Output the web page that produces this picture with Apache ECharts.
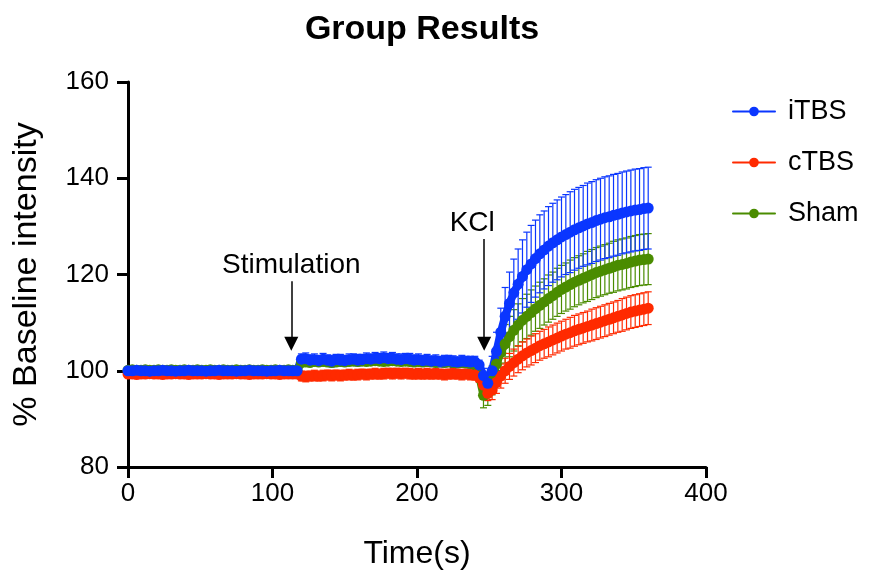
<!DOCTYPE html>
<html>
<head>
<meta charset="utf-8">
<title>Group Results</title>
<script src="https://cdn.jsdelivr.net/npm/echarts/dist/echarts.min.js"></script>
<style>
  html, body { margin: 0; padding: 0; background: #fff; }
  #chart { width: 872px; height: 579px; }
</style>
</head>
<body>
<div id="chart"></div>
<script>
// time points (s)
const times = [
  0, 3, 6, 9, 12, 15, 18, 21, 24, 27,
  30, 33, 36, 39, 42, 45, 48, 51, 54, 57,
  60, 63, 66, 69, 72, 75, 78, 81, 84, 87,
  90, 93, 96, 99, 102, 105, 108, 111, 114, 117,
  120, 123, 126, 129, 132, 135, 138, 141, 144, 147,
  150, 153, 156, 159, 162, 165, 168, 171, 174, 177,
  180, 183, 186, 189, 192, 195, 198, 201, 204, 207,
  210, 213, 216, 219, 222, 225, 228, 231, 234, 237,
  240, 243, 246, 249, 252, 255, 258, 261, 264, 267,
  270, 273, 276, 279, 282, 285, 288, 291, 294, 297,
  300, 303, 306, 309, 312, 315, 318, 321, 324, 327,
  330, 333, 336, 339, 342, 345, 348, 351, 354, 357,
  360
]

// % baseline intensity, mean
const itbs = [
  100.0, 100.0, 100.1, 100.0, 100.0, 99.9, 100.0, 100.0, 100.1, 100.0,
  100.0, 99.9, 100.0, 100.0, 100.1, 100.0, 100.0, 100.0, 99.9, 100.0,
  100.0, 100.1, 100.0, 100.0, 100.0, 99.9, 100.0, 100.0, 100.1, 100.0,
  100.0, 100.0, 99.9, 100.0, 100.0, 100.1, 100.0, 100.0, 100.0, 100.0,
  102.4, 102.5, 102.2, 102.3, 102.1, 102.4, 102.2, 102.0, 102.3, 102.2,
  102.1, 102.3, 102.4, 102.2, 102.3, 102.5, 102.4, 102.6, 102.5, 102.7,
  102.5, 102.6, 102.4, 102.3, 102.5, 102.4, 102.2, 102.3, 102.1, 102.2,
  102.0, 102.1, 101.9, 102.0, 102.1, 101.9, 101.8, 102.0, 101.9, 101.8,
  101.9, 101.2, 99.0, 97.4, 100.0, 104.0, 108.0, 111.3, 114.0, 116.2,
  118.0, 119.6, 121.0, 122.2, 123.3, 124.3, 125.1, 125.9, 126.6, 127.2,
  127.8, 128.3, 128.8, 129.3, 129.7, 130.1, 130.5, 130.8, 131.2, 131.5,
  131.8, 132.0, 132.3, 132.5, 132.8, 133.0, 133.2, 133.4, 133.5, 133.7,
  133.8
]
const ctbs = [
  99.3, 99.3, 99.2, 99.3, 99.3, 99.4, 99.3, 99.3, 99.2, 99.3,
  99.3, 99.4, 99.3, 99.3, 99.2, 99.3, 99.3, 99.3, 99.4, 99.3,
  99.3, 99.2, 99.3, 99.3, 99.3, 99.4, 99.3, 99.3, 99.2, 99.3,
  99.3, 99.3, 99.4, 99.3, 99.3, 99.2, 99.3, 99.3, 99.3, 99.3,
  98.9, 98.8, 98.9, 99.0, 98.9, 99.0, 99.1, 99.0, 99.1, 99.0,
  99.1, 99.2, 99.1, 99.2, 99.3, 99.2, 99.3, 99.4, 99.3, 99.4,
  99.5, 99.4, 99.5, 99.4, 99.5, 99.4, 99.3, 99.4, 99.3, 99.4,
  99.3, 99.4, 99.3, 99.2, 99.3, 99.4, 99.3, 99.2, 99.3, 99.2,
  99.1, 98.6, 97.0, 95.3, 96.0, 97.6, 98.9, 100.0, 100.9, 101.7,
  102.4, 103.1, 103.7, 104.2, 104.7, 105.2, 105.6, 106.0, 106.4, 106.8,
  107.2, 107.6, 107.9, 108.3, 108.6, 108.9, 109.2, 109.5, 109.8, 110.1,
  110.4, 110.7, 111.0, 111.3, 111.6, 111.9, 112.2, 112.4, 112.6, 112.8,
  113.0
]
const sham = [
  100.1, 100.2, 100.1, 100.1, 100.2, 100.1, 100.1, 100.2, 100.1, 100.1,
  100.2, 100.1, 100.1, 100.2, 100.1, 100.1, 100.2, 100.1, 100.1, 100.2,
  100.1, 100.1, 100.2, 100.1, 100.1, 100.2, 100.1, 100.1, 100.2, 100.1,
  100.1, 100.2, 100.1, 100.1, 100.2, 100.1, 100.1, 100.2, 100.1, 100.1,
  101.7, 101.8, 101.7, 101.9, 101.8, 101.9, 101.8, 101.7, 101.8, 101.9,
  101.8, 101.9, 102.0, 101.9, 102.0, 101.9, 102.0, 102.1, 102.0, 101.9,
  102.0, 102.1, 102.0, 101.9, 102.0, 101.9, 101.8, 101.9, 101.8, 101.9,
  101.8, 101.7, 101.8, 101.7, 101.8, 101.7, 101.6, 101.7, 101.6, 101.5,
  101.2, 99.0, 94.9, 95.3, 98.0, 101.4, 103.8, 105.6, 107.1, 108.4,
  109.5, 110.5, 111.3, 112.1, 112.9, 113.6, 114.3, 115.0, 115.6, 116.3,
  116.9, 117.4, 117.9, 118.4, 118.8, 119.2, 119.6, 120.0, 120.4, 120.7,
  121.0, 121.3, 121.6, 121.9, 122.1, 122.3, 122.6, 122.8, 123.0, 123.1,
  123.2
]

// error bar half-lengths
const itbsErr = [
  0.3, 0.3, 0.3, 0.3, 0.3, 0.3, 0.3, 0.3, 0.3, 0.3,
  0.3, 0.3, 0.3, 0.3, 0.3, 0.3, 0.3, 0.3, 0.3, 0.3,
  0.3, 0.3, 0.3, 0.3, 0.3, 0.3, 0.3, 0.3, 0.3, 0.3,
  0.3, 0.3, 0.3, 0.3, 0.3, 0.3, 0.3, 0.3, 0.3, 0.3,
  1.1, 1.2, 1.1, 1.2, 1.1, 1.2, 1.1, 1.2, 1.1, 1.2,
  1.1, 1.2, 1.1, 1.2, 1.1, 1.2, 1.1, 1.2, 1.1, 1.2,
  1.1, 1.2, 1.1, 1.2, 1.1, 1.2, 1.1, 1.2, 1.1, 1.2,
  1.1, 1.2, 1.1, 1.2, 1.1, 1.2, 1.1, 1.2, 1.1, 1.2,
  1.1, 1.0, 1.5, 2.0, 3.0, 4.0, 5.0, 6.0, 6.5, 7.0,
  7.3, 7.6, 7.8, 8.0, 8.0, 8.1, 8.1, 8.2, 8.2, 8.3,
  8.3, 8.3, 8.4, 8.4, 8.4, 8.4, 8.5, 8.5, 8.5, 8.5,
  8.5, 8.5, 8.5, 8.5, 8.5, 8.5, 8.5, 8.5, 8.5, 8.5,
  8.5
]
const ctbsErr = [
  0.3, 0.3, 0.3, 0.3, 0.3, 0.3, 0.3, 0.3, 0.3, 0.3,
  0.3, 0.3, 0.3, 0.3, 0.3, 0.3, 0.3, 0.3, 0.3, 0.3,
  0.3, 0.3, 0.3, 0.3, 0.3, 0.3, 0.3, 0.3, 0.3, 0.3,
  0.3, 0.3, 0.3, 0.3, 0.3, 0.3, 0.3, 0.3, 0.3, 0.3,
  1.0, 1.1, 1.0, 1.1, 1.0, 1.1, 1.0, 1.1, 1.0, 1.1,
  1.0, 1.1, 1.0, 1.1, 1.0, 1.1, 1.0, 1.1, 1.0, 1.1,
  1.0, 1.1, 1.0, 1.1, 1.0, 1.1, 1.0, 1.1, 1.0, 1.1,
  1.0, 1.1, 1.0, 1.1, 1.0, 1.1, 1.0, 1.1, 1.0, 1.1,
  1.0, 1.0, 1.0, 1.5, 2.0, 2.3, 2.5, 2.6, 2.7, 2.8,
  2.8, 2.9, 2.9, 3.0, 3.0, 3.0, 3.0, 3.1, 3.1, 3.1,
  3.1, 3.1, 3.2, 3.2, 3.2, 3.2, 3.2, 3.3, 3.3, 3.3,
  3.3, 3.3, 3.3, 3.3, 3.4, 3.4, 3.4, 3.4, 3.4, 3.4,
  3.4
]
const shamErr = [
  0.3, 0.3, 0.3, 0.3, 0.3, 0.3, 0.3, 0.3, 0.3, 0.3,
  0.3, 0.3, 0.3, 0.3, 0.3, 0.3, 0.3, 0.3, 0.3, 0.3,
  0.3, 0.3, 0.3, 0.3, 0.3, 0.3, 0.3, 0.3, 0.3, 0.3,
  0.3, 0.3, 0.3, 0.3, 0.3, 0.3, 0.3, 0.3, 0.3, 0.3,
  0.6, 0.6, 0.6, 0.6, 0.6, 0.6, 0.6, 0.6, 0.6, 0.6,
  0.6, 0.6, 0.6, 0.6, 0.6, 0.6, 0.6, 0.6, 0.6, 0.6,
  0.6, 0.6, 0.6, 0.6, 0.6, 0.6, 0.6, 0.6, 0.6, 0.6,
  0.6, 0.6, 0.6, 0.6, 0.6, 0.6, 0.6, 0.6, 0.6, 0.6,
  0.6, 1.2, 2.6, 2.5, 3.0, 3.5, 3.8, 4.0, 4.2, 4.3,
  4.4, 4.5, 4.6, 4.7, 4.7, 4.8, 4.8, 4.9, 4.9, 5.0,
  5.0, 5.0, 5.1, 5.1, 5.1, 5.1, 5.2, 5.2, 5.2, 5.2,
  5.2, 5.2, 5.3, 5.3, 5.3, 5.3, 5.3, 5.3, 5.3, 5.3,
  5.3
]

const xTicks = [0, 100, 200, 300, 400]
const yTicks = [80, 100, 120, 140, 160]

// annotation arrows: [time, y from, y to, text]
const stimArrow = [113, 118.6, 105.6, 'Stimulation']
const kclArrow = [246.5, 127.4, 105.6, 'KCl']

const BLUE = '#0a36ff'
const RED = '#ff2a00'
const GREEN = '#4a8c00'
const FONT = '"Liberation Sans", Arial, Helvetica, sans-serif'

function pairs(vals) {
  return times.map((t, i) => [t, vals[i]])
}

function errorBars(name, vals, errs, color) {
  return {
    name: name,
    type: 'custom',
    silent: true,
    data: times.map((t, i) => [t, vals[i] - errs[i], vals[i] + errs[i]]),
    encode: { x: 0, y: [1, 2] },
    renderItem: function(params, api) {
      const lo = api.coord([api.value(0), api.value(1)])
      const hi = api.coord([api.value(0), api.value(2)])
      const w = 3.5
      const style = { stroke: color, lineWidth: 1.2 }
      return {
        type: 'group',
        children: [
          { type: 'line', shape: { x1: hi[0], y1: hi[1], x2: lo[0], y2: lo[1] }, style: style },
          { type: 'line', shape: { x1: hi[0] - w, y1: hi[1], x2: hi[0] + w, y2: hi[1] }, style: style },
          { type: 'line', shape: { x1: lo[0] - w, y1: lo[1], x2: lo[0] + w, y2: lo[1] }, style: style }
        ]
      }
    }
  }
}

function meanLine(name, vals, color, extra) {
  return Object.assign({
    name: name,
    type: 'line',
    data: pairs(vals),
    symbol: 'circle',
    symbolSize: 11,
    showSymbol: true,
    color: color,
    itemStyle: { color: color },
    lineStyle: { color: color, width: 8, join: 'round', cap: 'round' }
  }, extra || {})
}

function arrow(a, labelPad) {
  return [
    {
      coord: [a[0], a[1]],
      label: {
        show: true,
        position: 'start',
        formatter: a[3],
        color: '#000',
        fontSize: 28,
        fontFamily: FONT,
        distance: 2,
        padding: labelPad
      }
    },
    { coord: [a[0], a[2]] }
  ]
}

const chart = echarts.init(document.getElementById('chart'))

chart.setOption({
  animation: false,
  backgroundColor: '#fff',
  textStyle: { fontFamily: FONT },
  title: {
    text: 'Group Results',
    left: 417,
    top: 8,
    textAlign: 'center',
    textStyle: { fontSize: 34, fontWeight: 'bold', color: '#000', fontFamily: FONT }
  },
  legend: {
    data: ['iTBS', 'cTBS', 'Sham'],
    orient: 'vertical',
    left: 727,
    top: 93,
    itemWidth: 42,
    itemHeight: 12,
    itemGap: 24,
    lineStyle: { width: 2 },
    textStyle: { fontSize: 27, color: '#000', padding: [0, 0, 0, 8] }
  },
  grid: { left: 128, right: 166, top: 82, bottom: 112 },
  xAxis: {
    type: 'value',
    min: xTicks[0],
    max: xTicks[xTicks.length - 1],
    interval: 100,
    name: 'Time(s)',
    nameLocation: 'middle',
    nameGap: 71,
    nameTextStyle: { fontSize: 32, color: '#000' },
    axisLine: { lineStyle: { color: '#000', width: 3 } },
    axisTick: { length: 11, lineStyle: { color: '#000', width: 3 } },
    axisLabel: { fontSize: 26, color: '#000', margin: 14 },
    splitLine: { show: false }
  },
  yAxis: {
    type: 'value',
    min: yTicks[0],
    max: yTicks[yTicks.length - 1],
    interval: 20,
    name: '% Baseline intensity',
    nameLocation: 'middle',
    nameRotate: 90,
    nameGap: 84,
    nameTextStyle: { fontSize: 34, color: '#000' },
    axisLine: { lineStyle: { color: '#000', width: 3 } },
    axisTick: { length: 11, lineStyle: { color: '#000', width: 3 } },
    axisLabel: { fontSize: 26, color: '#000', margin: 19 },
    splitLine: { show: false }
  },
  series: [
    errorBars('Sham err', sham, shamErr, GREEN),
    meanLine('Sham', sham, GREEN),
    errorBars('cTBS err', ctbs, ctbsErr, RED),
    meanLine('cTBS', ctbs, RED),
    errorBars('iTBS err', itbs, itbsErr, BLUE),
    meanLine('iTBS', itbs, BLUE, {
      markLine: {
        silent: true,
        symbol: ['none', 'triangle'],
        symbolSize: 14,
        lineStyle: { color: '#000', width: 1.5, type: 'solid' },
        itemStyle: { color: '#000' },
        data: [arrow(stimArrow, 0), arrow(kclArrow, [0, 24, 0, 0])]
      }
    })
  ]
})
</script>
</body>
</html>
